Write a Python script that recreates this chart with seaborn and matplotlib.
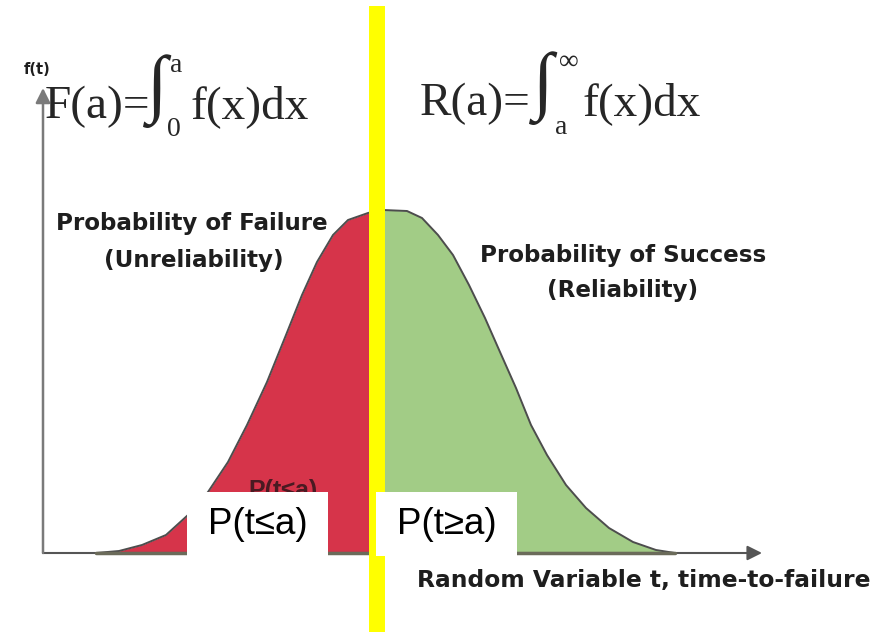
import numpy as np
import pandas as pd
import matplotlib
matplotlib.use("Agg")
import matplotlib.pyplot as plt
from matplotlib.patches import Rectangle
import seaborn as sns

# Кривая плотности f(t) (t от оси f, f над осью t)
t = [53, 76, 99, 123, 145, 165, 185, 204, 224, 243, 259, 274, 290, 305,
     325, 333, 340, 364, 379, 395, 410, 426, 442, 457, 473, 488, 504,
     523, 543, 566, 590, 613, 632]
f = [0, 2, 8, 18, 38, 61, 91, 128, 171, 218, 258, 291, 318, 333,
     340, 342, 343, 342, 335, 318, 298, 268, 235, 201, 165, 128, 98,
     68, 45, 25, 11, 3, 0]
a = 333  # точка разбиения

box_labels = ["P(t≤a)", "P(t≥a)"]
left_label = ["Probability of Failure", "(Unreliability)"]
right_label = ["Probability of Success", "(Reliability)"]
x_label = "Random Variable t, time-to-failure"
y_label = "f(t)"

df = pd.DataFrame({"t": t, "f": f})

sns.set_style("white")
plt.rcParams["font.family"] = ["Liberation Sans", "DejaVu Sans"]

fig = plt.figure(figsize=(8.85, 6.32), dpi=100)
ax = fig.add_axes([0, 0, 1, 1])
ax.set_xlim(-43, 842)
ax.set_ylim(-79, 553)
ax.axis("off")

red = "#D6344A"
green = "#A2CC86"

left = df[df.t <= a]
right = df[df.t >= a]
ax.fill_between(left.t, 0, left.f, color=red, lw=0, zorder=1)
ax.fill_between(right.t, 0, right.f, color=green, lw=0, zorder=1)
sns.lineplot(data=df, x="t", y="f", color="#4d4d4d", lw=1.4, ax=ax, zorder=2)

# оси со стрелками
ax.annotate("", xy=(719, 0), xytext=(0, 0),
            arrowprops=dict(arrowstyle="-|>", color="#555555", lw=1.5,
                            mutation_scale=22, shrinkA=0, shrinkB=0), zorder=2)
ax.annotate("", xy=(0, 465), xytext=(0, 0),
            arrowprops=dict(arrowstyle="-|>", color="#7a7a7a", lw=1.8,
                            mutation_scale=22, shrinkA=0, shrinkB=0), zorder=2)
ax.plot([t[0], t[-1]], [0, 0], color="#6b6b5a", lw=2.5, zorder=2)

bold = dict(fontweight="bold", color="#1e1e1e", family=["DejaVu Sans"])
ax.text(-6, 484, y_label, fontsize=10.5, ha="center", va="center", **bold)
ax.text(149, 341, left_label[0], fontsize=16.6, ha="center", va="top", **bold)
ax.text(151, 304, left_label[1], fontsize=16.6, ha="center", va="top", **bold)
ax.text(580, 309, right_label[0], fontsize=16.6, ha="center", va="top", **bold)
ax.text(580, 274, right_label[1], fontsize=16.6, ha="center", va="top", **bold)
ax.text(374, -16, x_label, fontsize=16.8, ha="left", va="top", **bold)

# старая подпись, почти закрытая белой рамкой
ax.text(205, 74, box_labels[0], fontsize=18, fontweight="bold",
        color="#4a1a22", ha="left", va="top", zorder=3)

# жёлтая линия в точке a
ax.axvline(a + 1, ymin=0, ymax=0.9905, color="#FFFF00", lw=11.5,
           solid_capstyle="butt", zorder=4)

# белые рамки с подписями
for x0, lab in zip([144, 333], box_labels):
    ax.add_patch(Rectangle((x0, -3), 141, 64, facecolor="white",
                           edgecolor="none", zorder=5))
    ax.text(x0 + 21, 28, lab, fontsize=26.5, color="black",
            ha="left", va="center", zorder=6)

# формулы F(a) и R(a)
serif = ["Liberation Serif", "DejaVu Serif"]
def formula(x0, base, head, upper, lower, tail, dint, dup, dlow, dtail):
    ax.text(x0, base, head, fontsize=34, family=serif, ha="left",
            va="baseline", zorder=6)
    ax.text(x0 + dint, base + 27, "∫", fontsize=54, family=serif,
            ha="left", va="center", zorder=6)
    ax.text(x0 + dup, base + 53, upper, fontsize=20, family=serif,
            ha="left", va="center", zorder=6)
    ax.text(x0 + dlow, base - 12, lower, fontsize=20, family=serif,
            ha="left", va="center", zorder=6)
    ax.text(x0 + dtail, base, tail, fontsize=34, family=serif, ha="left",
            va="baseline", zorder=6)

formula(2, 435, "F(a)=", "a", "0", "f(x)dx", 102, 125, 122, 145)
formula(377, 438, "R(a)=", "∞", "a", "f(x)dx", 113, 139, 135, 163)

fig.savefig("out.png", dpi=100)
